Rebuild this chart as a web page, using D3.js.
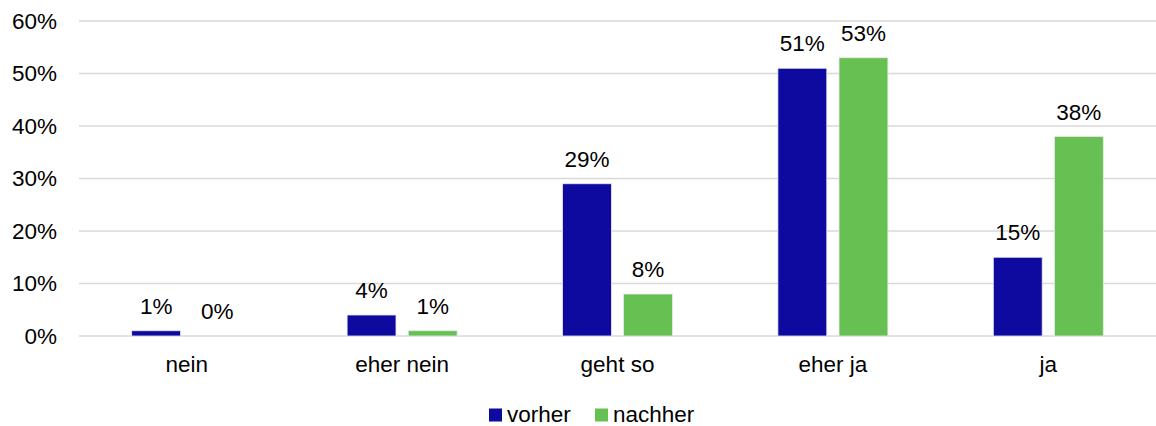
<html lang='de'>
    <head>
        <script src="https://d3js.org/d3.v7.min.js" charset="utf-8"></script>
        <style>
        body { margin: 0; background: #fff; }
        text { font-family: 'Liberation Sans', Arial, sans-serif; fill: #000; }
        </style>
    </head>
    <body>
        <script>
            // data
            var categories = ["nein", "eher nein", "geht so", "eher ja", "ja"]
            var seriesNames = ["vorher", "nachher"]
            var vorher = [1, 4, 29, 51, 15]
            var nachher = [0, 1, 8, 53, 38]
            var yTicks = [0, 10, 20, 30, 40, 50, 60]
            var colors = ["#0e0aa0", "#66c152"]

            var width = 1156
            var height = 426
            var margin = {left: 79, right: 0, top: 21, bottom: 90}
            var fontSize = "22.5px"

            var svg = d3.select("body")
                        .append("svg")
                        .attr("width", width)
                        .attr("height", height)

            var x = d3.scaleBand()
                .domain(categories)
                .range([margin.left, width - margin.right])

            var y = d3.scaleLinear()
                .domain([0, 60])
                .range([height - margin.bottom, margin.top])

            // inner scale for the two bars in a group
            var x1 = d3.scaleBand()
                .domain(seriesNames)
                .range([x.bandwidth() / 2 - 55, x.bandwidth() / 2 + 55])
                .paddingInner(0.2)

            // gridlines
            svg.append("g")
               .selectAll("line")
               .data(yTicks)
               .enter().append("line")
               .attr("x1", margin.left)
               .attr("x2", width - margin.right)
               .attr("y1", function(d) { return y(d) })
               .attr("y2", function(d) { return y(d) })
               .attr("stroke", "#d9d9d9")
               .attr("stroke-width", 1.5)

            // y axis labels
            var yAxis = d3.axisLeft(y)
                .tickValues(yTicks)
                .tickFormat(function(d) { return d + "%" })
                .tickSize(0)
                .tickPadding(22)
            var gy = svg.append("g")
               .attr("transform", "translate(" + margin.left + ",0)")
               .call(yAxis)
            gy.select(".domain").remove()
            gy.selectAll("text")
              .attr("font-size", fontSize)
              .attr("font-family", "'Liberation Sans', Arial, sans-serif")
              .attr("fill", "#000")

            // x axis labels
            var xAxis = d3.axisBottom(x).tickSize(0).tickPadding(20)
            var gx = svg.append("g")
               .attr("transform", "translate(0," + y(0) + ")")
               .call(xAxis)
            gx.select(".domain").remove()
            gx.selectAll("text")
              .attr("font-size", fontSize)
              .attr("font-family", "'Liberation Sans', Arial, sans-serif")
              .attr("fill", "#000")

            var rows = categories.map(function(c, i) {
              return [{cat: c, s: "vorher", v: vorher[i]}, {cat: c, s: "nachher", v: nachher[i]}]
            })

            var groups = svg.append("g")
               .selectAll("g")
               .data(rows)
               .enter().append("g")
               .attr("transform", function(d) { return "translate(" + x(d[0].cat) + ",0)" })

            groups.selectAll("rect")
               .data(function(d) { return d })
               .enter().append("rect")
               .attr("x", function(d) { return x1(d.s) })
               .attr("width", x1.bandwidth())
               .attr("y", function(d) { return y(d.v) })
               .attr("height", function(d) { return y(0) - y(d.v) })
               .attr("fill", function(d, i) { return colors[i] })
               .attr("stroke", "#e8e8f0")
               .attr("stroke-width", 0.8)

            groups.selectAll("text")
               .data(function(d) { return d })
               .enter().append("text")
               .attr("x", function(d) { return x1(d.s) + x1.bandwidth() / 2 })
               .attr("y", function(d) { return y(d.v) - 17 })
               .attr("text-anchor", "middle")
               .attr("font-size", fontSize)
               .text(function(d) { return d.v + "%" })

            // legend
            var legendX = [489, 595]
            var legend = svg.append("g")
               .selectAll("g")
               .data(seriesNames)
               .enter().append("g")
               .attr("transform", function(d, i) { return "translate(" + legendX[i] + ",408.5)" })
            legend.append("rect")
               .attr("width", 13)
               .attr("height", 13)
               .attr("fill", function(d, i) { return colors[i] })
            legend.append("text")
               .attr("x", 18)
               .attr("y", 13.5)
               .attr("font-size", fontSize)
               .text(function(d) { return d })
        </script>
    </body>
</html>
